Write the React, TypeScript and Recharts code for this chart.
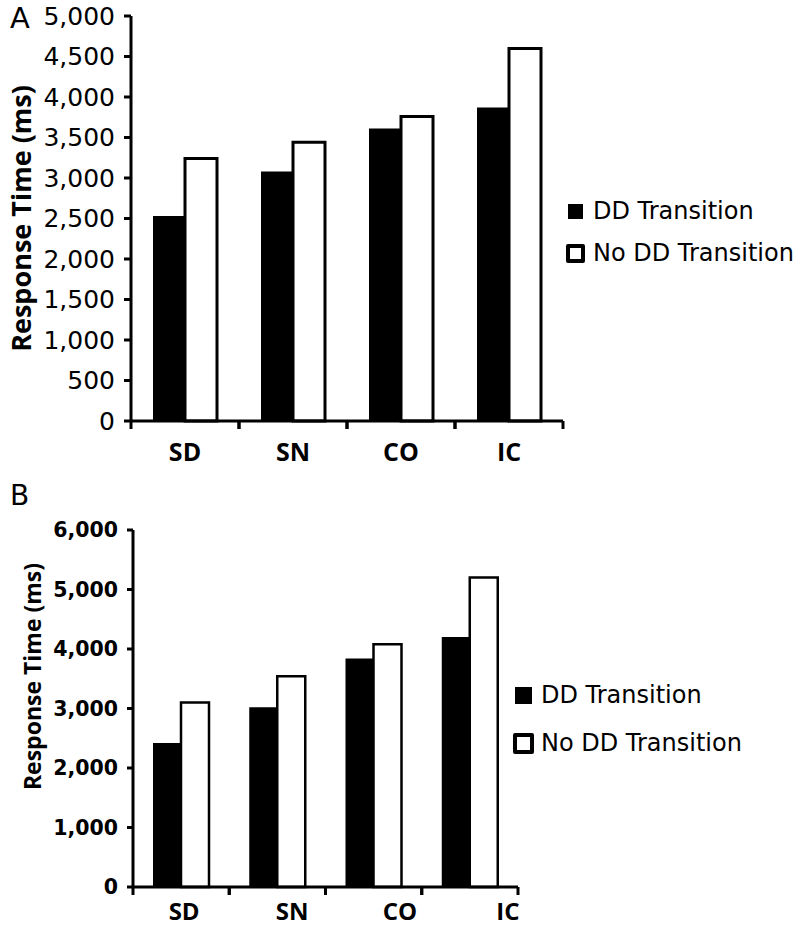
import { Bar, BarChart, XAxis, YAxis } from 'recharts'

const CATEGORIES = ['SD', 'SN', 'CO', 'IC']
const SERIES_NAMES = ['DD Transition', 'No DD Transition']

// Panel A
const A_DD = [2530, 3080, 3610, 3870]
const A_NO_DD = [3240, 3440, 3760, 4600]
const A_TICKS = [0, 500, 1000, 1500, 2000, 2500, 3000, 3500, 4000, 4500, 5000]

// Panel B
const B_DD = [2420, 3020, 3840, 4200]
const B_NO_DD = [3100, 3540, 4080, 5200]
const B_TICKS = [0, 1000, 2000, 3000, 4000, 5000, 6000]

const toRows = (dd: number[], noDd: number[]) =>
  CATEGORIES.map((c, i) => ({ cat: c, dd: dd[i], noDd: noDd[i] }))

const fmt = (v: number) => v.toLocaleString('en-US')

interface TickOpts {
  gap: number
  len: number
  halfBand: number
  fontSize: number
  shift: (i: number) => number
}

// category label plus tick marks at the band edges
function CategoryTick(props: any & { opts: TickOpts }) {
  const { x, y, payload, index, opts } = props
  const half = payload?.offset || opts.halfBand
  const y0 = y - opts.gap
  return (
    <g>
      <line x1={x - half} x2={x - half} y1={y0} y2={y0 + opts.len} stroke="#000" strokeWidth={3} />
      <line x1={x + half} x2={x + half} y1={y0} y2={y0 + opts.len} stroke="#000" strokeWidth={3} />
      <text
        x={x + opts.shift(index)}
        y={y}
        dy="0.72em"
        textAnchor="middle"
        fontFamily="'Open Sans'"
        fontWeight={700}
        fontSize={opts.fontSize}
        fill="#000"
      >
        {payload.value}
      </text>
    </g>
  )
}

const yLabel = (cx: number, shift: number, size: number) => (props: any) => {
  const vb = props.viewBox
  const cy = vb.y + vb.height / 2 + shift
  return (
    <text
      x={cx}
      y={cy}
      transform={`rotate(-90, ${cx}, ${cy})`}
      textAnchor="middle"
      dominantBaseline="central"
      fontFamily="'Open Sans'"
      fontWeight={700}
      fontSize={size}
      fill="#000"
    >
      Response Time (ms)
    </text>
  )
}

interface LegendProps {
  left: number
  top: number
  rowGap: number
  textLeft: number
  solid: number
  hollow: number
}

function Legend({ left, top, rowGap, textLeft, solid, hollow }: LegendProps) {
  return (
    <>
      {SERIES_NAMES.map((name, i) => {
        const size = i === 0 ? solid : hollow
        const cy = top + i * rowGap
        return (
          <div key={name}>
            <div
              style={{
                position: 'absolute',
                left: left + (i === 0 ? (hollow - solid) / 2 : 0),
                top: cy - size / 2,
                width: size,
                height: size,
                boxSizing: 'border-box',
                background: i === 0 ? '#000' : '#fff',
                border: i === 0 ? 'none' : '4px solid #000',
                borderRadius: i === 0 ? 0 : 2,
              }}
            />
            <div
              style={{
                position: 'absolute',
                left: textLeft,
                top: cy - 15,
                height: 30,
                lineHeight: '30px',
                fontFamily: "'DejaVu Sans'",
                fontSize: 24,
                color: '#000',
                whiteSpace: 'nowrap',
              }}
            >
              {name}
            </div>
          </div>
        )
      })}
    </>
  )
}

export default function App() {
  const axisLine = { stroke: '#000', strokeWidth: 3 }
  const tickLine = { stroke: '#000', strokeWidth: 3 }

  return (
    <div style={{ position: 'absolute', left: 0, top: 0, width: 800, height: 927, background: '#fff' }}>
      <div style={{ position: 'absolute', left: 10, top: 4, lineHeight: 1, fontFamily: "'DejaVu Sans'", fontSize: 29 }}>
        A
      </div>
      <BarChart
        width={800}
        height={470}
        data={toRows(A_DD, A_NO_DD)}
        margin={{ top: 16, right: 237, bottom: 0, left: 0 }}
        barGap={0}
        style={{ position: 'absolute', left: 0, top: 0 }}
      >
        <XAxis
          dataKey="cat"
          height={49}
          axisLine={axisLine}
          tickLine={false}
          tickSize={0}
          tickMargin={22}
          interval={0}
          tick={(p: any) => (
            <CategoryTick {...p} opts={{ gap: 22, len: 8, halfBand: 54, fontSize: 25, shift: () => 0 }} />
          )}
        />
        <YAxis
          width={131}
          domain={[0, 5000]}
          ticks={A_TICKS}
          interval={0}
          tickFormatter={fmt}
          axisLine={axisLine}
          tickLine={tickLine}
          tickSize={7}
          tickMargin={9}
          tick={{ fill: '#000', fontSize: 25, fontFamily: 'DejaVu Sans' }}
          label={{ content: yLabel(20, 0, 27) }}
        />
        <Bar dataKey="dd" name={SERIES_NAMES[0]} fill="#000" barSize={32} isAnimationActive={false} />
        <Bar
          dataKey="noDd"
          name={SERIES_NAMES[1]}
          fill="#fff"
          stroke="#000"
          strokeWidth={3}
          barSize={32}
          isAnimationActive={false}
        />
      </BarChart>
      <Legend left={566} top={211} rowGap={42} textLeft={593} solid={15} hollow={19} />

      <div style={{ position: 'absolute', left: 10, top: 482, lineHeight: 1, fontFamily: "'DejaVu Sans'", fontSize: 28 }}>
        B
      </div>
      <BarChart
        width={800}
        height={447}
        data={toRows(B_DD, B_NO_DD)}
        margin={{ top: 50, right: 282, bottom: 0, left: 0 }}
        barGap={0}
        style={{ position: 'absolute', left: 0, top: 480 }}
      >
        <XAxis
          dataKey="cat"
          height={40}
          axisLine={axisLine}
          tickLine={false}
          tickSize={0}
          tickMargin={16}
          interval={0}
          tick={(p: any) => (
            <CategoryTick
              {...p}
              opts={{ gap: 16, len: 8, halfBand: 48, fontSize: 24, shift: (i: number) => 3 + i * 11.7 }}
            />
          )}
        />
        <YAxis
          width={133}
          domain={[0, 6000]}
          ticks={B_TICKS}
          interval={0}
          tickFormatter={fmt}
          axisLine={axisLine}
          tickLine={tickLine}
          tickSize={6}
          tickMargin={9}
          tick={{ fill: '#000', fontSize: 20.5, fontFamily: 'DejaVu Sans', fontWeight: 700 }}
          label={{ content: yLabel(32, -32, 23) }}
        />
        <Bar dataKey="dd" name={SERIES_NAMES[0]} fill="#000" barSize={28} isAnimationActive={false} />
        <Bar
          dataKey="noDd"
          name={SERIES_NAMES[1]}
          fill="#fff"
          stroke="#000"
          strokeWidth={2.5}
          barSize={28}
          isAnimationActive={false}
        />
      </BarChart>
      <Legend left={513} top={695} rowGap={48} textLeft={541} solid={17} hollow={21} />
    </div>
  )
}
